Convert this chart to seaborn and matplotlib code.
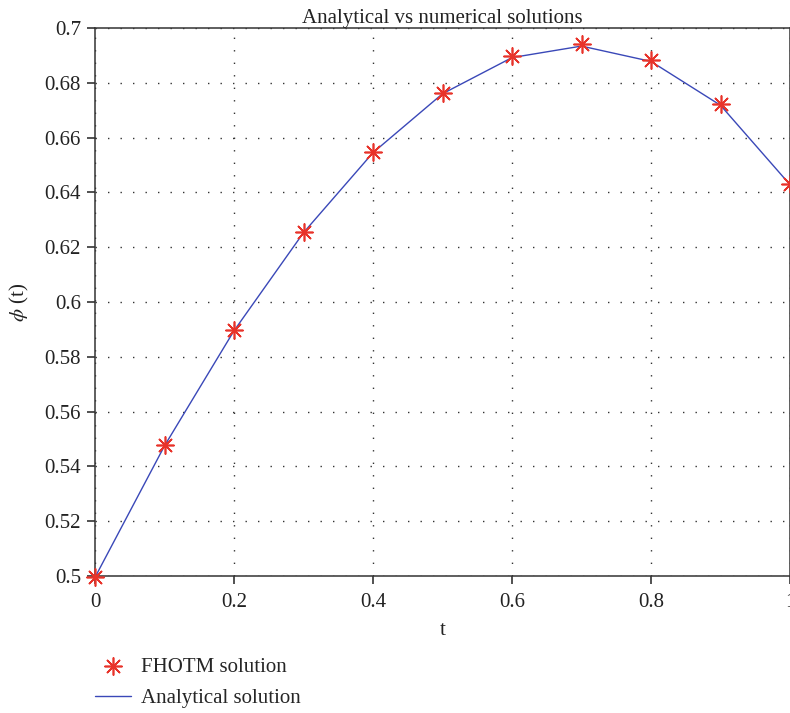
import matplotlib
matplotlib.use("Agg")
import matplotlib.pyplot as plt
import seaborn as sns
import pandas as pd
from matplotlib.ticker import FuncFormatter

# values
t = [0.0, 0.1, 0.2, 0.3, 0.4, 0.5, 0.6, 0.7, 0.8, 0.9, 1.0]
fhotm = [0.4995, 0.5478, 0.5898, 0.6255, 0.6547, 0.6763, 0.6898, 0.6940, 0.6883, 0.6723, 0.6430]
analytical = [0.4995, 0.5475, 0.5895, 0.6253, 0.6545, 0.6760, 0.6892, 0.6934, 0.6878, 0.6718, 0.6428]
xticks = [0, 0.2, 0.4, 0.6, 0.8, 1.0]
yticks = [0.5, 0.52, 0.54, 0.56, 0.58, 0.6, 0.62, 0.64, 0.66, 0.68, 0.7]

sns.set_style("white")
plt.rcParams['font.family'] = ['Liberation Serif', 'DejaVu Serif']
plt.rcParams['mathtext.fontset'] = 'stix'
plt.rcParams['xtick.bottom'] = True
plt.rcParams['ytick.left'] = True

df = pd.DataFrame({"t": t, "fhotm": fhotm, "analytical": analytical})

fig = plt.figure(figsize=(7.9, 7.13), dpi=100)
ax = fig.add_axes([95 / 790, 1 - 576 / 713, 1 - 95 / 790, (576 - 28) / 713])

sns.scatterplot(data=df, x="t", y="fhotm", ax=ax, marker=(8, 2, 0), s=150,
                color="#e8332a", linewidth=1.2, edgecolor="#e8332a",
                label="FHOTM solution", zorder=3, clip_on=False)
sns.lineplot(data=df, x="t", y="analytical", ax=ax, color="#3a48b8",
             linewidth=1.0, label="Analytical solution", zorder=2)

ax.set_xlim(0, 1)
ax.set_ylim(0.5, 0.7)
ax.set_xticks(xticks)
ax.set_yticks(yticks)
fmt = FuncFormatter(lambda v, p: "%g" % round(v, 2))
ax.xaxis.set_major_formatter(fmt)
ax.yaxis.set_major_formatter(fmt)
ax.tick_params(axis="both", direction="out", length=6, width=1.1, color="#222222",
               labelcolor="#222222", labelsize=15, left=True, bottom=True)
ax.tick_params(axis="x", pad=6)
ax.tick_params(axis="y", pad=4)
ax.grid(True, linestyle=(0, (1, 8)), color="#333333", linewidth=1.0)
for s in ax.spines.values():
    s.set_color("#333333")
    s.set_linewidth(1.1)

ax.set_title("Analytical vs numerical solutions", fontsize=15, pad=0, y=1.01,
             color="#222222")
ax.set_xlabel("t", fontsize=15, color="#222222", labelpad=7)
ax.set_ylabel(r"$\phi$ (t)", fontsize=15, color="#222222", labelpad=10)

h, l = ax.get_legend_handles_labels()
ax.get_legend().remove()
fig.legend(h, l, loc="upper left", bbox_to_anchor=(87 / 790, 1 - 649 / 713),
           frameon=False, fontsize=15, handlelength=1.7, handletextpad=0.5,
           labelspacing=0.55, borderaxespad=0)

fig.savefig("out.png", dpi=100)
